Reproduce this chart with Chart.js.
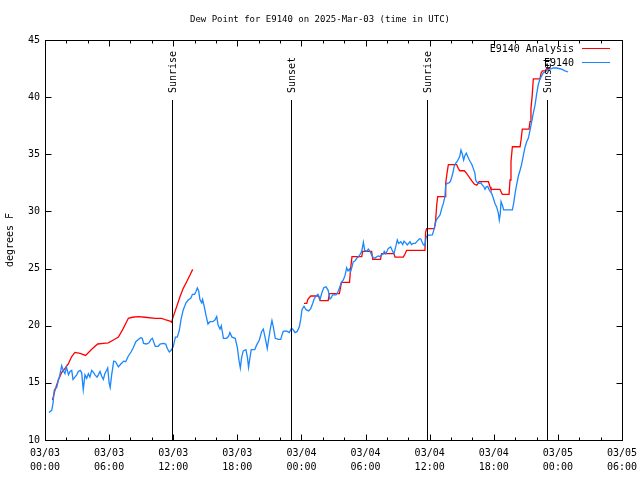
<!DOCTYPE html>
<html>
<head>
<meta charset="utf-8">
<title>Dew Point for E9140</title>
<script src="https://cdn.jsdelivr.net/npm/chart.js@4.4.1/dist/chart.umd.min.js"></script>
<style>
  html, body { margin: 0; padding: 0; background: #fff; }
  #chart { display: block; }
</style>
</head>
<body>
<canvas id="chart" width="640" height="480"></canvas>
<script>
const TITLE = 'Dew Point for E9140 on 2025-Mar-03 (time in UTC)';
const Y_TITLE = 'degrees F';
const FONT = '"DejaVu Sans Mono", "Liberation Mono", monospace';

// hours since 2025-03-03 00:00 UTC
const xTickHours = [0, 6, 12, 18, 24, 30, 36, 42, 48, 54];
const xTickLabels = [
  ['03/03', '00:00'], ['03/03', '06:00'], ['03/03', '12:00'], ['03/03', '18:00'],
  ['03/04', '00:00'], ['03/04', '06:00'], ['03/04', '12:00'], ['03/04', '18:00'],
  ['03/05', '00:00'], ['03/05', '06:00'],
];
const yTicks = [10, 15, 20, 25, 30, 35, 40, 45];

const sunHours = [11.89, 23.02, 35.75, 46.98];
const sunLabels = ['Sunrise', 'Sunset', 'Sunrise', 'Sunset'];
const sunLineTop = 39.75;

const seriesNames = ['E9140 Analysis', 'E9140'];
const seriesColors = ['#ff0000', '#1a86ff'];

// [hour, dew point F]; null marks the gap in the analysis
const analysis = [
  [0.7, 13.5], [0.94, 14.37], [1.25, 15.25], [1.56, 15.9], [1.87, 16.27], [2.18, 16.65],
  [2.5, 17.3], [2.8, 17.67], [3.28, 17.58], [3.8, 17.4], [4.37, 17.94], [4.93, 18.4],
  [5.46, 18.45], [5.93, 18.5], [6.4, 18.75], [6.87, 19.0], [7.33, 19.77], [7.8, 20.65],
  [8.17, 20.74], [8.73, 20.8], [9.36, 20.74], [10.3, 20.65], [10.92, 20.65], [11.32, 20.5],
  [11.7, 20.4], [11.85, 20.3], [12.0, 20.8], [12.32, 21.66], [12.63, 22.54], [12.94, 23.27],
  [13.26, 23.85], [13.57, 24.43], [13.82, 24.93],
  [19, null],
  [24.24, 21.95], [24.5, 21.95], [24.6, 22.3], [24.87, 22.6], [25.6, 22.6], [25.74, 22.2],
  [26.5, 22.2], [26.62, 22.8], [27.55, 22.8], [27.75, 23.8], [28.5, 23.8], [28.6, 25.0],
  [28.73, 26.04], [29.64, 26.04], [29.73, 26.5], [30.57, 26.5], [30.67, 25.8], [31.4, 25.8],
  [31.5, 26.3], [32.66, 26.3], [32.76, 26.0], [33.53, 26.0], [33.7, 26.3], [33.85, 26.6],
  [35.56, 26.6], [35.62, 28.2], [35.72, 28.5], [36.44, 28.5], [36.56, 29.25], [36.66, 30.56],
  [36.75, 31.3], [37.44, 31.3], [37.5, 32.46], [37.62, 33.33], [37.75, 34.1], [38.52, 34.1],
  [38.68, 33.77], [38.81, 33.56], [39.24, 33.56], [39.46, 33.33], [39.62, 33.1], [39.78, 32.9],
  [39.93, 32.7], [40.17, 32.4], [40.4, 32.3], [40.55, 32.46], [40.62, 32.6], [41.5, 32.6],
  [41.65, 32.16], [41.74, 31.93], [42.58, 31.93], [42.68, 31.73], [42.8, 31.5], [43.43, 31.5],
  [43.52, 32.75], [43.61, 34.35], [43.74, 35.66], [44.46, 35.66], [44.55, 36.25], [44.67, 37.2],
  [45.3, 37.2], [45.39, 37.85], [45.48, 39.0], [45.6, 40.2], [45.7, 41.6], [46.33, 41.6],
  [46.42, 42.1], [46.55, 42.3], [46.8, 42.3], [46.95, 42.5], [47.3, 42.55],
];

const observed = [
  [0.37, 12.4], [0.63, 12.6], [0.75, 13.2], [0.87, 14.4], [1.1, 14.6], [1.25, 15.25],
  [1.37, 15.6], [1.56, 16.5], [1.7, 16.1], [1.87, 15.8], [2.0, 16.4], [2.2, 15.7],
  [2.34, 16.0], [2.5, 16.1], [2.62, 15.3], [2.8, 15.5], [2.97, 15.7], [3.12, 16.0],
  [3.3, 16.1], [3.43, 15.9], [3.58, 14.4], [3.74, 15.7], [3.9, 15.4], [4.06, 15.8],
  [4.2, 15.5], [4.37, 16.1], [4.55, 15.9], [4.68, 15.7], [4.87, 15.5], [4.99, 15.7],
  [5.15, 16.0], [5.3, 15.6], [5.46, 15.3], [5.6, 15.8], [5.77, 16.1], [5.87, 16.3],
  [6.0, 15.0], [6.1, 14.6], [6.24, 15.7], [6.43, 16.9], [6.6, 16.85], [6.87, 16.4],
  [7.1, 16.65], [7.37, 16.9], [7.55, 16.85], [7.8, 17.35], [8.05, 17.7], [8.27, 18.1],
  [8.5, 18.6], [8.74, 18.8], [8.95, 18.95], [9.1, 18.9], [9.23, 18.45], [9.5, 18.4],
  [9.73, 18.5], [9.92, 18.8], [10.05, 18.9], [10.2, 18.5], [10.32, 18.2], [10.6, 18.2],
  [10.76, 18.4], [11.07, 18.45], [11.3, 18.4], [11.45, 18.0], [11.63, 17.7], [11.8, 17.85],
  [12.0, 18.15], [12.2, 19.0], [12.38, 19.0], [12.57, 19.6], [12.75, 20.65], [12.94, 21.4],
  [13.2, 22.0], [13.4, 22.25], [13.64, 22.4], [13.8, 22.75], [14.0, 22.75], [14.13, 23.0],
  [14.26, 23.3], [14.38, 23.05], [14.5, 22.3], [14.67, 22.0], [14.75, 22.3], [14.9, 21.7],
  [15.07, 20.9], [15.25, 20.15], [15.44, 20.35], [15.7, 20.35], [15.9, 20.5], [16.07, 20.8],
  [16.2, 20.05], [16.38, 19.7], [16.5, 20.0], [16.7, 18.9], [17.0, 18.9], [17.2, 19.1],
  [17.3, 19.4], [17.5, 19.0], [17.8, 18.9], [18.0, 18.1], [18.15, 17.0], [18.28, 16.3],
  [18.4, 17.2], [18.55, 17.8], [18.8, 17.9], [18.95, 17.2], [19.05, 16.35], [19.15, 17.0],
  [19.3, 17.9], [19.63, 17.9], [19.8, 18.3], [20.06, 18.75], [20.28, 19.5], [20.43, 19.7],
  [20.62, 18.9], [20.8, 18.0], [20.94, 18.9], [21.12, 19.9], [21.24, 20.45], [21.37, 19.9],
  [21.55, 18.9], [21.84, 18.8], [22.06, 18.8], [22.18, 19.2], [22.3, 19.5], [22.55, 19.55],
  [22.68, 19.5], [22.86, 19.4], [23.05, 19.75], [23.18, 19.7], [23.4, 19.4], [23.6, 19.5],
  [23.8, 19.9], [23.93, 20.55], [24.05, 21.4], [24.24, 21.7], [24.43, 21.4], [24.68, 21.3],
  [24.87, 21.5], [25.05, 21.95], [25.17, 22.3], [25.36, 22.6], [25.55, 22.75], [25.74, 22.3],
  [25.92, 22.9], [26.1, 23.35], [26.3, 23.4], [26.5, 23.1], [26.67, 22.34], [26.8, 22.45],
  [26.92, 22.7], [27.23, 22.7], [27.42, 22.97], [27.55, 23.27], [27.73, 23.8], [27.92, 24.0],
  [28.08, 24.4], [28.23, 25.07], [28.36, 24.8], [28.48, 24.96], [28.6, 24.73], [28.73, 25.16],
  [28.85, 25.6], [29.0, 25.66], [29.17, 25.9], [29.32, 26.0], [29.48, 26.23], [29.64, 26.5],
  [29.8, 27.3], [29.92, 26.6], [30.1, 26.5], [30.26, 26.7], [30.42, 26.5], [30.57, 26.2],
  [30.73, 25.95], [30.88, 25.9], [31.04, 26.04], [31.2, 26.1], [31.35, 26.04], [31.5, 26.2],
  [31.66, 26.3], [31.75, 26.5], [31.9, 26.3], [32.13, 26.77], [32.35, 26.9], [32.54, 26.5],
  [32.66, 26.3], [32.85, 27.0], [32.97, 27.5], [33.1, 27.2], [33.3, 27.35], [33.48, 27.1],
  [33.6, 27.4], [33.8, 27.2], [33.9, 27.06], [34.16, 27.35], [34.3, 27.1], [34.47, 27.2],
  [34.65, 27.2], [34.84, 27.4], [35.03, 27.6], [35.16, 27.6], [35.28, 27.35], [35.4, 27.1],
  [35.54, 27.0], [35.66, 27.7], [35.78, 27.9], [36.25, 27.94], [36.37, 28.3], [36.5, 28.8],
  [36.62, 29.25], [36.8, 29.48], [36.97, 29.7], [37.13, 30.27], [37.28, 30.7], [37.43, 31.3],
  [37.5, 32.3], [37.62, 32.45], [37.81, 32.5], [37.93, 32.6], [38.06, 32.97], [38.18, 33.4],
  [38.3, 33.97], [38.43, 34.2], [38.56, 34.35], [38.68, 34.56], [38.81, 34.8], [38.93, 35.37],
  [39.06, 35.0], [39.18, 34.5], [39.3, 34.9], [39.43, 35.1], [39.56, 34.8], [39.68, 34.56],
  [39.8, 34.35], [39.93, 34.15], [40.08, 33.77], [40.24, 33.33], [40.3, 32.75], [40.5, 32.46],
  [40.65, 32.46], [40.8, 32.5], [40.93, 32.3], [41.05, 32.2], [41.18, 31.93], [41.3, 32.15],
  [41.43, 32.2], [41.55, 31.93], [41.68, 31.73], [41.8, 31.58], [41.96, 31.15], [42.11, 30.7],
  [42.27, 30.4], [42.43, 29.83], [42.52, 29.25], [42.61, 29.83], [42.68, 30.86], [42.8, 30.56],
  [42.93, 30.13], [43.74, 30.13], [43.86, 30.7], [44.0, 31.6], [44.15, 32.4], [44.3, 33.1],
  [44.46, 33.6], [44.6, 34.1], [44.77, 34.9], [44.92, 35.6], [45.08, 36.1], [45.23, 36.4],
  [45.39, 37.1], [45.55, 37.85], [45.7, 38.6], [45.86, 39.3], [46.0, 40.2], [46.16, 41.1],
  [46.33, 41.6], [46.5, 41.9], [46.64, 42.14], [46.8, 42.2], [47.05, 42.4], [47.26, 42.45],
  [47.57, 42.55], [47.88, 42.55], [48.35, 42.45], [48.67, 42.3], [48.95, 42.2],
];

function toPoints(pairs) {
  return pairs.map(([x, y]) => ({ x, y }));
}

function font(size) {
  return `${size}px ${FONT}`;
}

// gnuplot-like frame: box, inward ticks, title, axis title, sunrise/sunset marks, legend
const gnuplotFrame = {
  id: 'gnuplotFrame',
  afterDraw(chart) {
    const { ctx, chartArea: a, scales: { x, y } } = chart;
    ctx.save();
    ctx.strokeStyle = '#000';
    ctx.fillStyle = '#000';
    ctx.lineWidth = 1;

    const left = Math.round(a.left) + 0.5;
    const right = Math.round(a.right) + 0.5;
    const top = Math.round(a.top) + 0.5;
    const bottom = Math.round(a.bottom) + 0.5;
    ctx.strokeRect(left, top, right - left, bottom - top);

    ctx.beginPath();
    for (let h = 0; h <= 54; h += 2) {
      const px = Math.round(x.getPixelForValue(h)) + 0.5;
      const len = h % 6 === 0 ? 6 : 3;
      ctx.moveTo(px, bottom); ctx.lineTo(px, bottom - len);
      ctx.moveTo(px, top); ctx.lineTo(px, top + len);
    }
    yTicks.forEach((v) => {
      const py = Math.round(y.getPixelForValue(v)) + 0.5;
      ctx.moveTo(left, py); ctx.lineTo(left + 6, py);
      ctx.moveTo(right, py); ctx.lineTo(right - 6, py);
    });
    ctx.stroke();

    // sunrise / sunset markers
    ctx.font = font(10);
    sunHours.forEach((h, i) => {
      const px = Math.round(x.getPixelForValue(h)) + 0.5;
      const py = y.getPixelForValue(sunLineTop);
      ctx.beginPath();
      ctx.moveTo(px, py);
      ctx.lineTo(px, bottom);
      ctx.stroke();
      ctx.save();
      ctx.translate(px + 1, py - 7);
      ctx.rotate(-Math.PI / 2);
      ctx.textAlign = 'left';
      ctx.textBaseline = 'middle';
      ctx.fillText(sunLabels[i], 0, 0);
      ctx.restore();
    });

    // title and y-axis title
    ctx.textAlign = 'center';
    ctx.textBaseline = 'middle';
    ctx.font = font(9);
    ctx.fillText(TITLE, 320, 20);
    ctx.font = font(10);
    ctx.save();
    ctx.translate(10, 240);
    ctx.rotate(-Math.PI / 2);
    ctx.fillText(Y_TITLE, 0, 0);
    ctx.restore();

    // legend
    seriesNames.forEach((name, i) => {
      const ly = 49 + i * 14;
      ctx.textAlign = 'right';
      ctx.fillStyle = '#000';
      ctx.fillText(name, 574, ly);
      ctx.strokeStyle = seriesColors[i];
      ctx.beginPath();
      ctx.moveTo(582, ly - 0.5);
      ctx.lineTo(610, ly - 0.5);
      ctx.stroke();
    });
    ctx.restore();
  },
};

new Chart(document.getElementById('chart'), {
  type: 'line',
  data: {
    datasets: [
      {
        label: seriesNames[0],
        data: toPoints(analysis),
        borderColor: seriesColors[0],
        borderWidth: 1.3,
        pointRadius: 0,
        spanGaps: false,
        order: 1,
      },
      {
        label: seriesNames[1],
        data: toPoints(observed),
        borderColor: seriesColors[1],
        borderWidth: 1.3,
        pointRadius: 0,
        order: 0,
      },
    ],
  },
  options: {
    responsive: false,
    animation: false,
    devicePixelRatio: 1,
    layout: { padding: { top: 40, right: 18, left: 0, bottom: 0 } },
    plugins: { legend: { display: false }, tooltip: { enabled: false } },
    scales: {
      x: {
        type: 'linear',
        min: 0,
        max: 54,
        grid: { display: false, drawTicks: false },
        border: { display: false },
        afterFit: (scale) => {
          scale.height = 40;
          scale.paddingLeft = 0;
          scale.paddingRight = 0;
        },
        afterBuildTicks: (scale) => { scale.ticks = xTickHours.map((value) => ({ value })); },
        ticks: {
          autoSkip: false,
          maxRotation: 0,
          padding: 6,
          color: '#000',
          font: { family: FONT, size: 10, lineHeight: 1.4 },
          callback: (value) => xTickLabels[xTickHours.indexOf(value)],
        },
      },
      y: {
        min: 10,
        max: 45,
        grid: { display: false, drawTicks: false },
        border: { display: false },
        afterFit: (scale) => { scale.width = 45; },
        afterBuildTicks: (scale) => { scale.ticks = yTicks.map((value) => ({ value })); },
        ticks: {
          padding: 5,
          color: '#000',
          font: { family: FONT, size: 10 },
        },
      },
    },
  },
  plugins: [gnuplotFrame],
});
</script>
</body>
</html>
